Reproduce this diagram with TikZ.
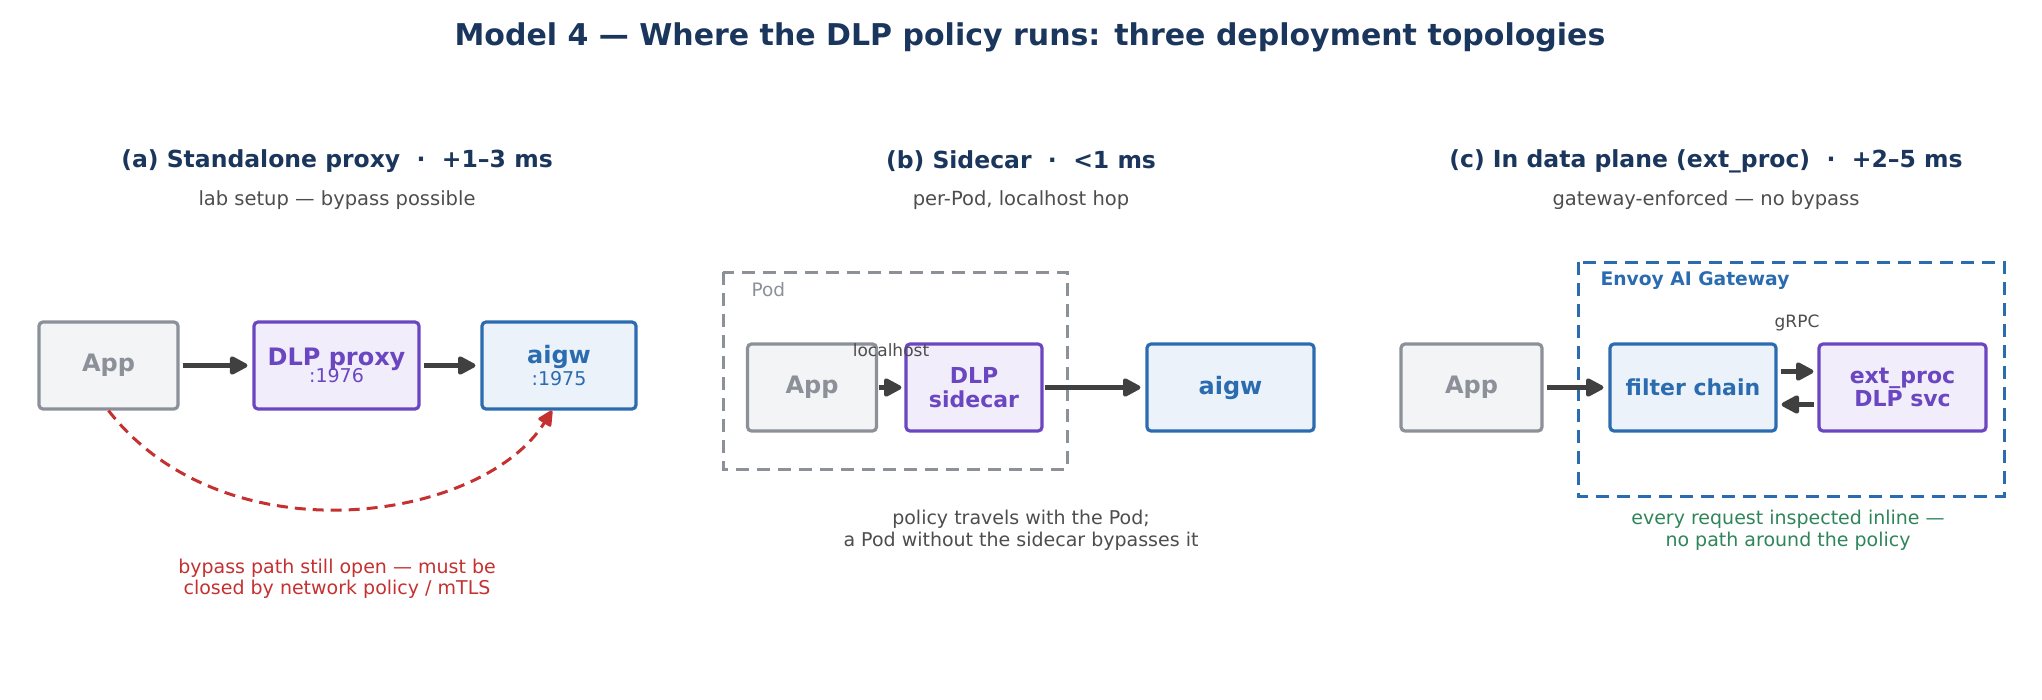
\documentclass[tikz,border=0pt]{standalone}
\usepackage{fontspec}
\setmainfont{DejaVu Sans}
\usetikzlibrary{arrows.meta}

\definecolor{navy}{HTML}{1B365D}
\definecolor{subgray}{HTML}{4D4D4D}
\definecolor{appgray}{HTML}{8C9099}
\definecolor{appfill}{HTML}{F3F4F6}
\definecolor{dlppurple}{HTML}{6B46C1}
\definecolor{dlpfill}{HTML}{F1EDFA}
\definecolor{gwblue}{HTML}{2B6CB0}
\definecolor{gwfill}{HTML}{EBF2FA}
\definecolor{bypassred}{HTML}{C53030}
\definecolor{okgreen}{HTML}{2F855A}
\definecolor{flowgray}{HTML}{404040}

\newcommand{\fsz}[2]{\fontsize{#1}{#2}\selectfont}

\tikzset{
    box/.style={draw, line width=3.2pt, rounded corners=4pt, inner sep=0pt,
        align=center, minimum height=87pt},
    appbox/.style={box, draw=appgray, fill=appfill, text=appgray, font=\fsz{24}{28}\bfseries},
    dlpbox/.style={box, draw=dlppurple, fill=dlpfill, text=dlppurple, font=\fsz{22}{23.5}\bfseries},
    gwbox/.style={box, draw=gwblue, fill=gwfill, text=gwblue, font=\fsz{24}{28}\bfseries},
    heading/.style={text=navy, font=\fsz{30}{34}\bfseries},
    sectitle/.style={text=navy, font=\fsz{23.5}{28}\bfseries},
    subtitle/.style={text=subgray, font=\fsz{19.5}{23}},
    note/.style={text=subgray, font=\fsz{19}{21.5}, align=center},
    hop/.style={text=subgray, font=\fsz{17}{20}},
    flow/.style={draw=flowgray, line width=4.2pt,
        -{Triangle[length=20pt,width=20pt,round]}, shorten <=3pt, shorten >=5pt},
    bypass/.style={draw=bypassred, line width=3pt, dash pattern=on 11pt off 7pt,
        -{Triangle[length=17pt,width=16pt,round]}},
    frame/.style={line width=3pt, dash pattern=on 13pt off 8pt}
}

\begin{document}
\begin{tikzpicture}[x=1pt, y=-1pt]
    \useasboundingbox (0,0) rectangle (2042,699);
    \node[heading] (title) at (1030,37) {Model 4 — Where the DLP policy runs: three deployment topologies};

    % (a) standalone proxy
    \node[sectitle] (titleA) at (337,161) {(a) Standalone proxy \ · \ +1–3 ms};
    \node[subtitle] (subA) at (337,200) {lab setup — bypass possible};
    \node[appbox, minimum width=139pt] (appA) at (108.5,365.5) {\raisebox{-2pt}{App}};
    \node[dlpbox, minimum width=165pt] (dlpA) at (336.5,365.5)
        {\fsz{24}{28}DLP proxy\\[-6pt]\fsz{19}{21}\mdseries :1976};
    \node[gwbox, minimum width=154pt] (aigwA) at (559,365.5)
        {\fsz{24}{28}aigw\\[-6pt]\fsz{19}{21}\mdseries :1975};
    \draw[flow] (appA) -- (dlpA);
    \draw[flow] (dlpA) -- (aigwA);
    \draw[bypass] (appA.south) .. controls (225,560) and (482,522) .. ([xshift=-7pt]aigwA.south);
    \node[note, text=bypassred] (noteA) at (337,578.5)
        {bypass path still open — must be\\closed by network policy / mTLS};

    % (b) sidecar
    \node[sectitle] (titleB) at (1021,161) {(b) Sidecar \ · \ <1 ms};
    \node[subtitle] (subB) at (1021,200) {per-Pod, localhost hop};
    \draw[frame, draw=appgray] (723,272) rectangle (1067,469);
    \node[anchor=west, text=appgray, font=\fsz{18.5}{22}] (podlbl) at (748,290) {Pod};
    \node[appbox, minimum width=129pt] (appB) at (812,387.5) {\raisebox{-2pt}{App}};
    \node[dlpbox, minimum width=136pt] (dlpB) at (974,387.5) {DLP\\sidecar};
    \node[gwbox, minimum width=167pt] (aigwB) at (1230.5,387.5) {\raisebox{-2pt}{aigw}};
    \draw[flow, shorten <=1pt, shorten >=3pt] (appB) -- (dlpB);
    \draw[flow, shorten <=1pt] (dlpB) -- (aigwB);
    \node[hop] (lhost) at (891,350) {localhost};
    \node[note] (noteB) at (1021,530.5)
        {policy travels with the Pod;\\a Pod without the sidecar bypasses it};

    % (c) in data plane
    \node[sectitle] (titleC) at (1706,161) {(c) In data plane (ext\_proc) \ · \ +2–5 ms};
    \node[subtitle] (subC) at (1706,200) {gateway-enforced — no bypass};
    \draw[frame, draw=gwblue] (1578,262) rectangle (2004,496);
    \node[anchor=west, text=gwblue, font=\fsz{18.7}{22}\bfseries] (gwlbl) at (1597,281) {Envoy AI Gateway};
    \node[appbox, minimum width=141pt] (appC) at (1471.5,387.5) {\raisebox{-2pt}{App}};
    \node[gwbox, minimum width=166pt, font=\fsz{22}{23.5}\bfseries] (filterC) at (1693,387.5) {filter chain};
    \node[dlpbox, minimum width=167pt] (extC) at (1902.5,387.5) {ext\_proc\\DLP svc};
    \draw[flow] (appC) -- (filterC);
    \draw[flow, shorten >=4pt] ([yshift=16pt]filterC.east) -- ([yshift=16pt]extC.west);
    \draw[flow, shorten >=4pt] ([yshift=-17pt]extC.west) -- ([yshift=-17pt]filterC.east);
    \node[hop] (grpc) at (1797,323) {gRPC};
    \node[note, text=okgreen] (noteC) at (1788,530.5)
        {every request inspected inline —\\no path around the policy};
\end{tikzpicture}
\end{document}
